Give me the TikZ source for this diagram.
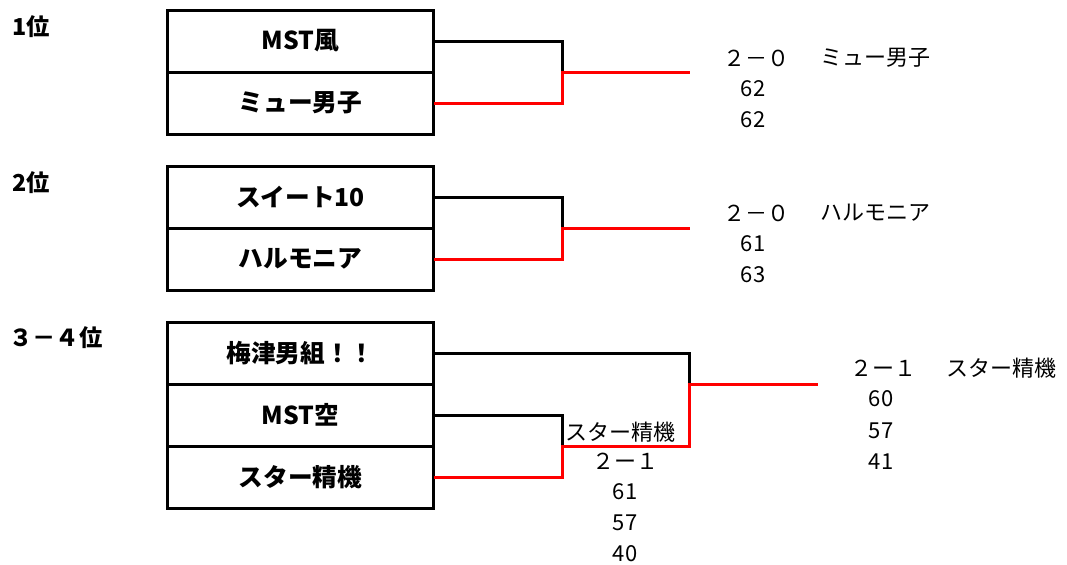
\documentclass[tikz,border=0pt]{standalone}
\usepackage{fontspec}
\newfontfamily\jpfont{Noto Sans CJK JP}
\usetikzlibrary{positioning}

\tikzset{
  team/.style = {draw, line width=2.25pt, minimum width=200pt, minimum height=46.5pt,
    inner sep=0pt, outer sep=0pt, font=\jpfont\bfseries\fontsize{18.5}{18.5}\selectfont},
  lose/.style = {line width=2.25pt},
  win/.style = {line width=2.25pt, red},
  score/.style = {inner sep=0pt, font=\jpfont\fontsize{16.5}{16.5}\selectfont},
  rank/.style = {inner sep=0pt, anchor=west, font=\jpfont\bfseries\fontsize{17.5}{17.5}\selectfont}
}

\begin{document}
\begin{tikzpicture}[x=0.75pt, y=-0.75pt]
     \useasboundingbox (0,0) rectangle (1067,564);

     \node [rank] (r1) at (12,27) {1位};
     \node [rank] (r2) at (12,183) {2位};
     \node [rank] (r3) at (9,338) {３－４位};

     \node [team] (t1a) at (300.5,41) {MST風};
     \node [team, below=0pt of t1a] (t1b) {ミュー男子};
     \node [team] (t2a) at (300.5,197) {スイート10};
     \node [team, below=0pt of t2a] (t2b) {ハルモニア};
     \node [team] (t3a) at (300.5,353) {梅津男組！！};
     \node [team, below=0pt of t3a] (t3b) {MST空};
     \node [team, below=0pt of t3b] (t3c) {スター精機};

     \coordinate (j1) at (562,72);
     \coordinate (e1) at (690,72);
     \coordinate (j2) at (562,228);
     \coordinate (e2) at (690,228);
     \coordinate (j3) at (562,446);
     \coordinate (j4) at (689,384);
     \coordinate (e4) at (818,384);

     \draw [lose] (t1a.east) -| (j1);
     \draw [win] (t1b.east) -| (j1) -- (e1);
     \draw [lose] (t2a.east) -| (j2);
     \draw [win] (t2b.east) -| (j2) -- (e2);
     \draw [lose] (t3b.east) -| (j3);
     \draw [lose] (t3a.east) -| (j4);
     \draw [win] (t3c.east) -| (j3) -| (j4) -- (e4);

     \node [score, anchor=west] (s1) at (723,58) {２－０};
     \node [score, anchor=west] (w1) at (820,58) {ミュー男子};
     \node [score] (s1a) at (753,89) {62};
     \node [score] (s1b) at (753,120) {62};

     \node [score, anchor=west] (s2) at (723,213) {２－０};
     \node [score, anchor=west] (w2) at (820,213) {ハルモニア};
     \node [score] (s2a) at (753,244) {61};
     \node [score] (s2b) at (753,275) {63};

     \node [score, anchor=base west] (w3) at (565,440) {スター精機};
     \node [score] (s3) at (625,461) {２ー１};
     \node [score] (s3a) at (625,492) {61};
     \node [score] (s3b) at (625,523) {57};
     \node [score] (s3c) at (625,554) {40};

     \node [score, anchor=west] (s4) at (850,368) {２ー１};
     \node [score, anchor=west] (w4) at (946,368) {スター精機};
     \node [score] (s4a) at (881,399) {60};
     \node [score] (s4b) at (881,431) {57};
     \node [score] (s4c) at (881,462) {41};
\end{tikzpicture}
\end{document}
